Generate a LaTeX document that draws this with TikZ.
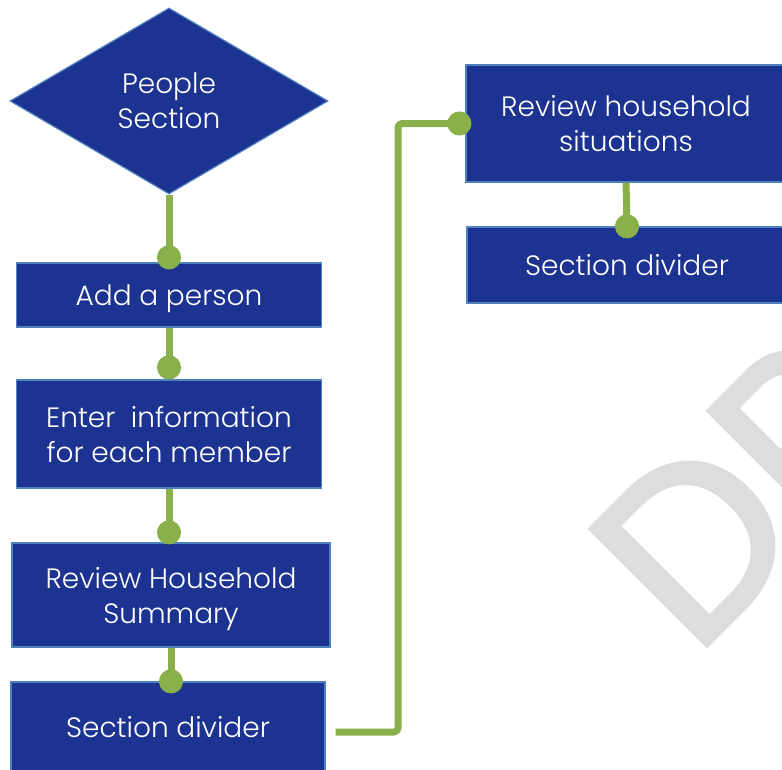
\documentclass[tikz,border=0pt]{standalone}
\usepackage{fontspec}
\setmainfont{Poppins Light}
\newfontfamily\wmfont[FakeBold=2]{Poppins}
\usetikzlibrary{shapes.geometric,arrows.meta}

\definecolor{boxblue}{RGB}{28,51,145}
\definecolor{boxedge}{RGB}{79,129,189}
\definecolor{linkgreen}{RGB}{138,176,76}
\definecolor{wmgray}{RGB}{221,221,221}

\tikzset{
  flowbox/.style={rectangle, draw=boxedge, line width=1.2pt, fill=boxblue,
    text=white, align=center, inner sep=0pt, text depth=0pt,
    font=\fontsize{28}{35}\selectfont},
  decision/.style={diamond, draw=boxedge, line width=1.2pt, fill=boxblue,
    text=white, align=center, inner sep=0pt, aspect=1.7,
    font=\fontsize{28}{35}\selectfont},
  link/.style={draw=linkgreen, line width=7pt, line join=round,
    -{Circle[length=24pt,width=24pt]}},
  watermark/.style={text=wmgray, inner sep=0pt,
    font=\wmfont\fontsize{236}{236}\selectfont}
}

\begin{document}
\begin{tikzpicture}[x=1pt,y=-1pt]
  \useasboundingbox (0,0) rectangle (782,769);
  \clip (0,0) rectangle (782,769);

  % watermark behind everything
  \node[watermark, rotate=45, anchor=base west] (wm) at (694,658) {DRAFT};

  % left column
  \node[decision, minimum width=318pt, minimum height=186pt] (people) at (169,101) {People\\Section};
  \node[flowbox, minimum width=305pt, minimum height=64pt] (add) at (169,295) {Add a person};
  \node[flowbox, minimum width=305pt, minimum height=108pt] (enter) at (169,434) {Enter\ \ information\\for each member};
  \node[flowbox, minimum width=318pt, minimum height=104pt] (summary) at (171,595) {Review Household\\Summary};
  \node[flowbox, minimum width=314pt, minimum height=90pt] (divA) at (168,727) {Section divider};

  % right column
  \node[flowbox, minimum width=320pt, minimum height=117pt] (situ) at (626,123.5) {Review household\\situations};
  \node[flowbox, minimum width=320pt, minimum height=76pt] (divB) at (627,265) {Section divider};

  % connectors
  \draw[link, shorten >=-7pt] (people.south) -- (add.north);
  \draw[link] (add.south) -- (enter.north);
  \draw[link, shorten >=-2pt] (enter.south) -- (enter.south |- summary.north);
  \draw[link, shorten >=-12pt] (summary.south) -- (summary.south |- divA.north);
  \draw[link, rounded corners=4pt, shorten >=-6pt]
    ([xshift=10pt,yshift=-5pt]divA.east) -- (398,732) |- (situ.west);
  \draw[link, shorten >=-12pt] (situ.south) -- (divB.north);
\end{tikzpicture}
\end{document}
